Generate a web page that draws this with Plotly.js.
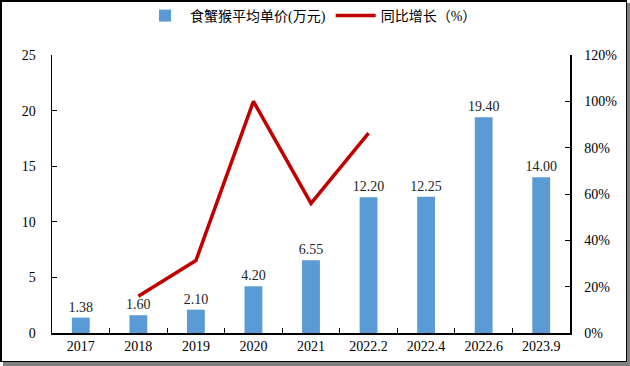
<!DOCTYPE html>
<html><head><meta charset="utf-8">
<script src="https://cdn.plot.ly/plotly-3.0.1.min.js"></script>
<style>
body{margin:0;background:#fff;}
#wrap{position:relative;width:630px;height:366px;}
#chart{width:630px;height:366px;}
#frame{position:absolute;left:0;top:0;width:624px;height:359px;border-left:2px solid #000;border-top:2px solid #000;border-right:1px solid #000;border-bottom:1px solid #000;pointer-events:none;}
#shadowR{position:absolute;left:627px;top:3px;width:3px;height:363px;background:#808080;}
#shadowB{position:absolute;left:3px;top:362px;width:627px;height:4px;background:#808080;}
</style></head>
<body>
<div id="wrap"><div id="chart"></div><div id="frame"></div><div id="shadowR"></div><div id="shadowB"></div></div>
<script>
const categories = ["2017","2018","2019","2020","2021","2022.2","2022.4","2022.6","2023.9"];
const prices = [1.38, 1.60, 2.10, 4.20, 6.55, 12.20, 12.25, 19.40, 14.00];
const growthCats = ["2018","2019","2020","2021","2022.2"];
const growth = [0.159, 0.3125, 1.00, 0.5595, 0.863];
const priceName = "食蟹猴平均单价(万元)";
const growthName = "同比增长（%）";

const font = "'Liberation Serif', 'Times New Roman', 'Noto Sans CJK SC', serif";

const traces = [
  {type:'bar', x:categories, y:prices, name:priceName, width:0.31,
   marker:{color:'#5B9BD5'},
   text:prices.map(v=>v.toFixed(2)), textposition:'outside', cliponaxis:false,
   constraintext:'none', textangle:0,
   textfont:{family:font,size:14,color:'#222'}, hoverinfo:'skip'},
  {type:'scatter', mode:'lines', x:growthCats, y:growth, yaxis:'y2', name:growthName,
   line:{color:'#C00000', width:3.5}, hoverinfo:'skip'}
];

const layout = {
  width:630, height:366,
  margin:{l:52, r:60, t:55, b:33},
  paper_bgcolor:'#fff', plot_bgcolor:'#fff',
  font:{family:font, size:14, color:'#000'},
  showlegend:true,
  legend:{orientation:'h', x:0.5, xanchor:'center', y:1.0, yref:'container', yanchor:'top',
          font:{family:font,size:14,color:'#000'}, itemwidth:40, traceorder:'normal'},
  xaxis:{type:'category', showline:true, linecolor:'#000', linewidth:1.5,
         ticks:'inside', tickson:'boundaries', ticklen:5, tickcolor:'#000',
         showgrid:false, tickfont:{family:font,size:14}, fixedrange:true},
  yaxis:{range:[0,25], dtick:5, showline:true, linecolor:'#000', linewidth:1.5,
         ticks:'inside', ticklen:5, tickcolor:'#000', showgrid:false, zeroline:false,
         ticklabelstandoff:12, tickfont:{family:font,size:14}, fixedrange:true},
  yaxis2:{range:[0,1.2], dtick:0.2, tickformat:'.0%', overlaying:'y', side:'right',
          showline:true, linecolor:'#000', linewidth:1.5, ticks:'inside', ticklen:5,
          tickcolor:'#000', showgrid:false, zeroline:false, ticklabelstandoff:10,
          tickfont:{family:font,size:14}, fixedrange:true}
};
Plotly.newPlot('chart', traces, layout, {staticPlot:true, displayModeBar:false});
</script>
</body></html>
